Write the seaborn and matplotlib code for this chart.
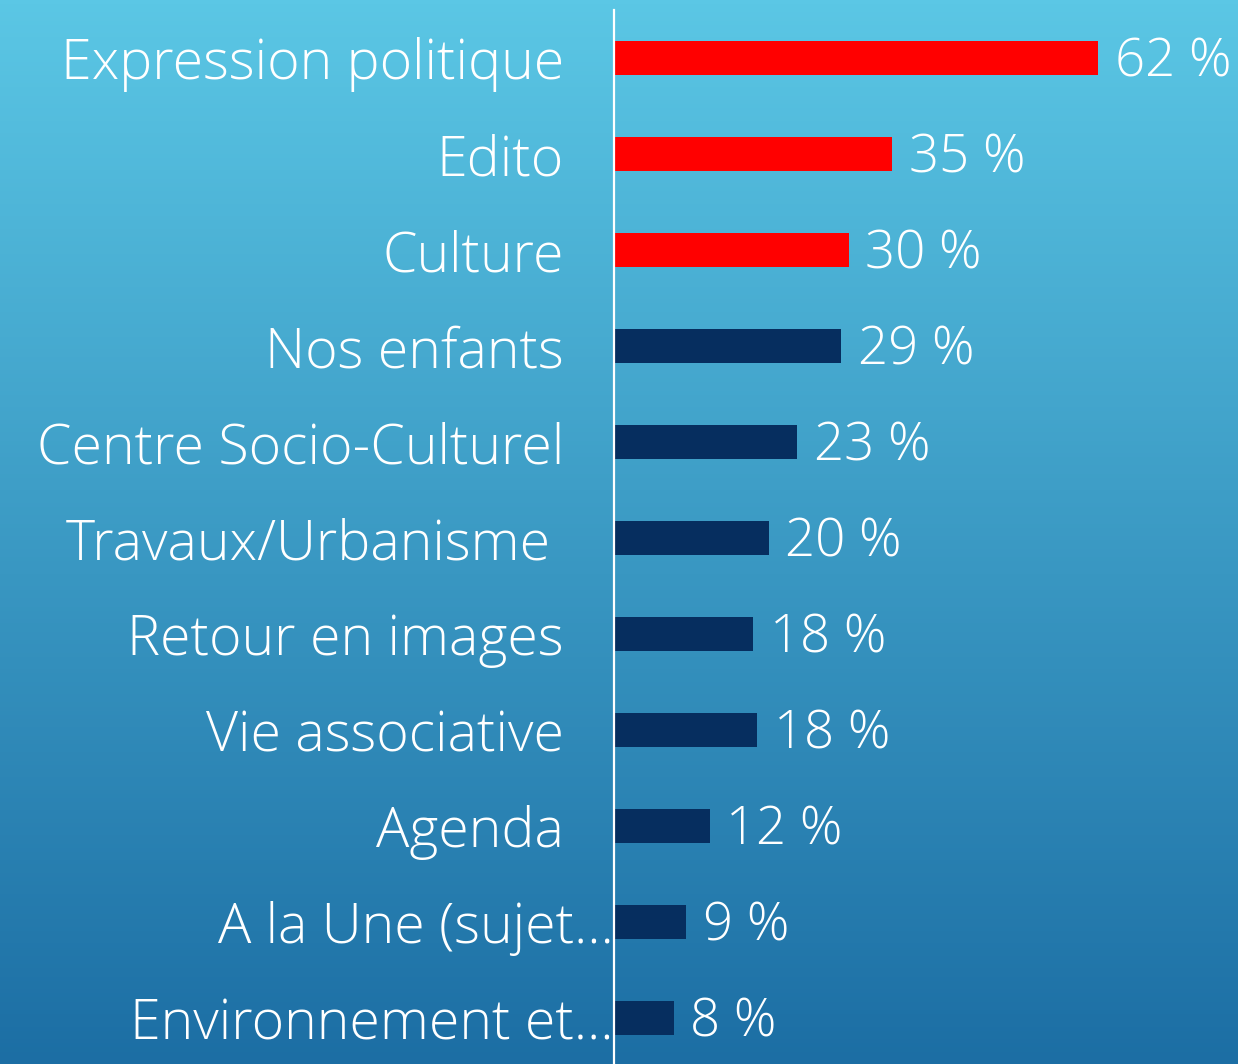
import numpy as np
import matplotlib
matplotlib.use("Agg")
import matplotlib.pyplot as plt
import matplotlib.transforms as mtransforms
from matplotlib.colors import LinearSegmentedColormap
import seaborn as sns

categories = ["Expression politique", "Edito", "Culture", "Nos enfants",
              "Centre Socio-Culturel", "Travaux/Urbanisme ", "Retour en images",
              "Vie associative", "Agenda", "A la Une (sujet…", "Environnement et…"]
values = [61.7, 35.4, 29.9, 28.9, 23.3, 19.7, 17.7, 18.2, 12.2, 9.2, 7.6]
bar_colors = ["#FF0000"] * 3 + ["#062E5F"] * 8

sns.set_style("white")
plt.rcParams['font.family'] = ['Open Sans', 'DejaVu Sans']

fig = plt.figure(figsize=(12.38, 10.64), dpi=100)

# gradient background
bg = fig.add_axes([0, 0, 1, 1])
cmap = LinearSegmentedColormap.from_list("bg", ["#5BC7E5", "#1C6EA4"])
bg.imshow(np.linspace(0, 1, 256).reshape(-1, 1), aspect="auto", cmap=cmap,
          extent=[0, 1, 0, 1], origin="upper")
bg.axis("off")

ax = fig.add_axes([614 / 1238, -2 / 1064, 624 / 1238, 1056 / 1064])
ax.patch.set_alpha(0)
sns.barplot(x=values, y=categories, hue=categories, palette=bar_colors,
            legend=False, width=0.354, saturation=1, ax=ax, zorder=3,
            edgecolor="none", linewidth=0)

ax.set_xlim(0, 79.5)
ax.set_xlabel("")
ax.set_ylabel("")
ax.set_xticks([])
for s in ["top", "right", "bottom"]:
    ax.spines[s].set_visible(False)
ax.spines["left"].set_color("white")
ax.spines["left"].set_linewidth(1.6)
ax.spines["left"].set_zorder(5)

ax.tick_params(axis="y", length=0, pad=36, labelsize=40, labelcolor="white")
for lab in ax.get_yticklabels():
    lab.set_fontweight("light")
    if lab.get_text().endswith("…"):
        lab.set_transform(lab.get_transform() +
                          mtransforms.ScaledTranslation(0.5, 0, fig.dpi_scale_trans))

for c in ax.containers:
    anns = ax.bar_label(c, labels=[f"{round(v.get_width())} %" for v in c],
                        padding=12, fontsize=38, color="white", fontweight="light")
    for a in anns:
        a.xyann = (a.xyann[0], -3.5)

fig.savefig("out.png", dpi=100)
